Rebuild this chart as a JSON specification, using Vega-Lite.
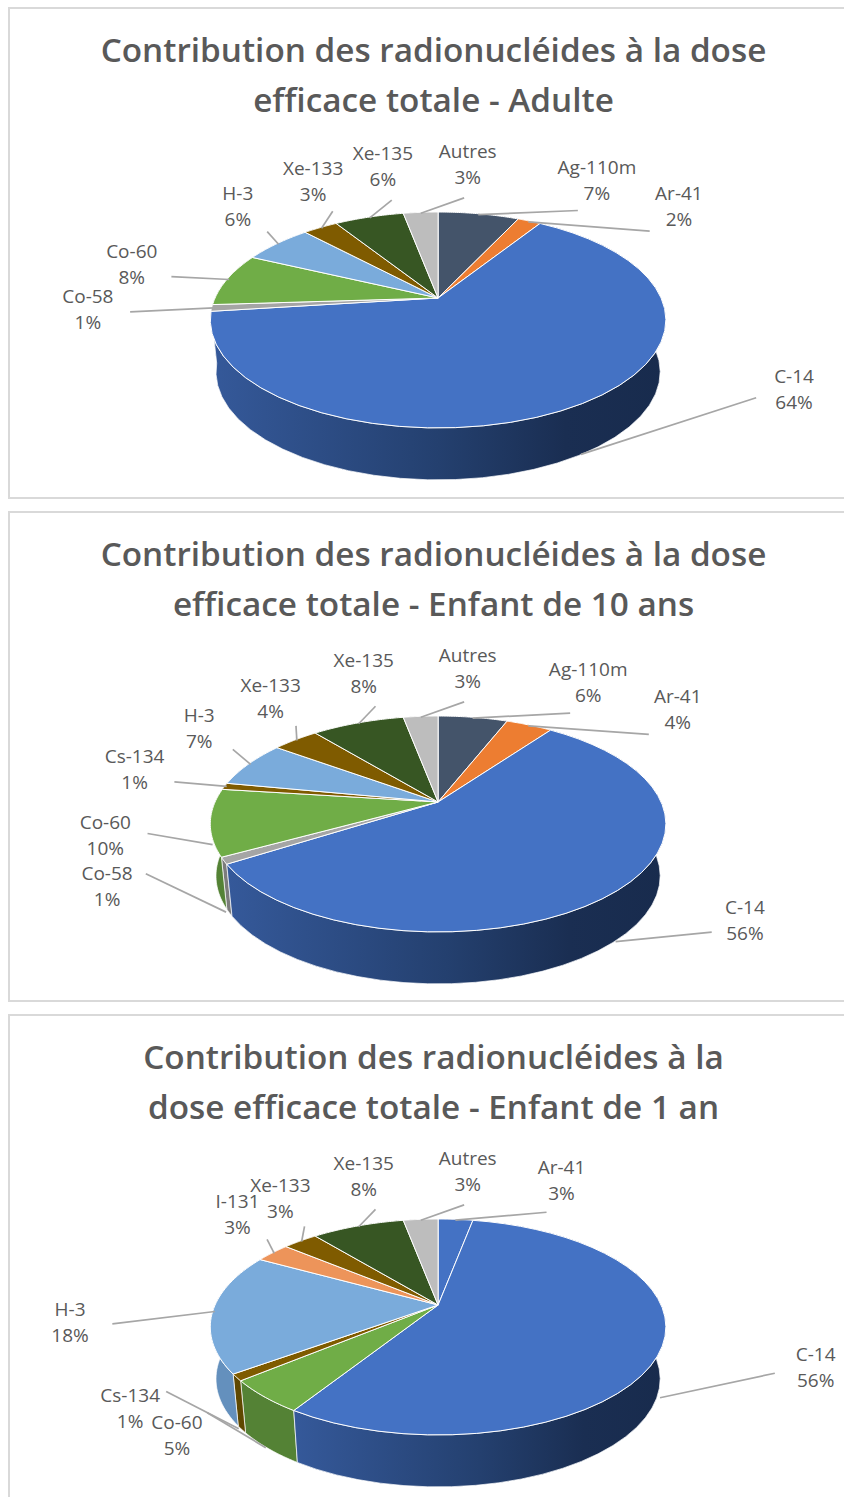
{
"$schema":"https://vega.github.io/schema/vega-lite/v6.json",
"padding":{"left":8,"top":7,"right":0,"bottom":0},
"background":"white",
"spacing":14,
"bounds":"flush",
"config":{"view":{"stroke":"#d9d9d9","strokeWidth":2},"title":{"font":"Open Sans","fontSize":33.3,"fontWeight":600,"color":"#595959","lineHeight":50,"anchor":"middle","dx":6,"offset":-111,"limit":0}},
"data":{"values":[
{"group":"Adulte","nuclide":"Ag-110m","value":7},{"group":"Adulte","nuclide":"Ar-41","value":2},{"group":"Adulte","nuclide":"C-14","value":64},{"group":"Adulte","nuclide":"Co-58","value":1},{"group":"Adulte","nuclide":"Co-60","value":8},{"group":"Adulte","nuclide":"H-3","value":6},{"group":"Adulte","nuclide":"Xe-133","value":3},{"group":"Adulte","nuclide":"Xe-135","value":6},{"group":"Adulte","nuclide":"Autres","value":3},
{"group":"Enfant de 10 ans","nuclide":"Ag-110m","value":6},{"group":"Enfant de 10 ans","nuclide":"Ar-41","value":4},{"group":"Enfant de 10 ans","nuclide":"C-14","value":56},{"group":"Enfant de 10 ans","nuclide":"Co-58","value":1},{"group":"Enfant de 10 ans","nuclide":"Co-60","value":10},{"group":"Enfant de 10 ans","nuclide":"Cs-134","value":1},{"group":"Enfant de 10 ans","nuclide":"H-3","value":7},{"group":"Enfant de 10 ans","nuclide":"Xe-133","value":4},{"group":"Enfant de 10 ans","nuclide":"Xe-135","value":8},{"group":"Enfant de 10 ans","nuclide":"Autres","value":3},
{"group":"Enfant de 1 an","nuclide":"Ar-41","value":3},{"group":"Enfant de 1 an","nuclide":"C-14","value":56},{"group":"Enfant de 1 an","nuclide":"Co-60","value":5},{"group":"Enfant de 1 an","nuclide":"Cs-134","value":1},{"group":"Enfant de 1 an","nuclide":"H-3","value":18},{"group":"Enfant de 1 an","nuclide":"I-131","value":3},{"group":"Enfant de 1 an","nuclide":"Xe-133","value":3},{"group":"Enfant de 1 an","nuclide":"Xe-135","value":8},{"group":"Enfant de 1 an","nuclide":"Autres","value":3}
]},
"transform":[
{"window":[{"op":"sum","field":"value","as":"cum"}],"groupby":["group"]},
{"calculate":"2*PI*(datum.cum-datum.value)/100","as":"a0"},
{"calculate":"2*PI*datum.cum/100","as":"a1"},
{"calculate":"(datum.a0+datum.a1)/2","as":"mid"},
{"calculate":"datum.mid+((sin(datum.mid)<0&&cos(datum.mid)>0?11+5*max(0,1-abs(datum.mid*180/PI-293)/15):10+6*cos(datum.mid))-25*datum.value/100-2.5*max(0,datum.value-56))*PI/180","as":"phi"},
{"calculate":"(sin(datum.phi)>=0?1.56:(cos(datum.phi)>=0?1.6-0.45*cos(datum.phi):1.4+min(0.22,-0.8*cos(datum.phi))))+0.35*datum.value/100","as":"lr"},
{"calculate":"datum.lr*sin(datum.phi)","as":"lx"},
{"calculate":"-0.099+0.70*cos(datum.phi)","as":"ly"},
{"calculate":"datum.lx-0.19*sin(datum.phi)","as":"ex"},
{"calculate":"sin(datum.phi)>0&&cos(datum.phi)<0?datum.ly-0.08*abs(cos(datum.phi)):datum.ly-0.15*cos(datum.phi)","as":"ey"},
{"calculate":"0.99*sin(datum.mid)/(1+0.2037*cos(datum.mid))","as":"sx"},
{"calculate":"0.99*0.464*cos(datum.mid)/(1+0.2037*cos(datum.mid))-0.233*(datum.value>50?1:min(1,max(0,-cos(datum.mid)*5-0.5)))","as":"sy"},
{"calculate":"datum.nuclide+'\\n'+datum.value+'%'","as":"lab"},
{"calculate":"[-1,0,1,2,3,4,5,6,7,8,9,10,11,12,13,14,15,16,17,18,19,20,21,22,23,24,25,26,27,28,29,30,31,32,33,34,35,36,37,38,39,40,41,42,43,44,45,46,47,48,49,50,51,52,53,54,55,56,57,58,59,60,61,62,63,64,65,66,67,68,69,70,71,72,73,74,75,76,77,78,79,80,81]","as":"s"},
{"flatten":["s"]},
{"calculate":"datum.s<=40?datum.s/40:(81-datum.s)/40","as":"t"},
{"calculate":"datum.a0+datum.t*(datum.a1-datum.a0)","as":"ang"},
{"calculate":"datum.s<0?0:sin(datum.ang)/(1+0.2037*cos(datum.ang))*(datum.s>40?0.975:1)","as":"px"},
{"calculate":"datum.s<0?0:0.464*cos(datum.ang)/(1+0.2037*cos(datum.ang))-(datum.s>40?0.233:0)","as":"py"},
{"calculate":"datum.group=='Enfant de 1 an'&&datum.nuclide=='Ar-41'?'C-14':datum.nuclide","as":"topKey"},
{"calculate":"'w:'+datum.nuclide","as":"wallKey"}
],
"vconcat":[
{"width":837,"height":490,"title":{"text":["Contribution des radionucléides à la dose","efficace totale - Adulte"]},
"transform":[{"filter":"datum.group=='Adulte'"}],
"encoding":{"x":{"field":"px","type":"quantitative","axis":null,"scale":{"domain":[-1.924,1.829],"nice":false,"zero":false}},"y":{"field":"py","type":"quantitative","axis":null,"scale":{"domain":[-0.8969,1.3004],"nice":false,"zero":false}},"order":{"field":"s","type":"quantitative"},"detail":{"field":"nuclide"}},
"layer":[
{"transform":[{"filter":"datum.s>=0"}],"mark":{"type":"line","interpolate":"linear-closed","stroke":"#ffffff","strokeWidth":0.7},"encoding":{"fill":{"field":"wallKey","type":"nominal","legend":null,"scale":{"domain":["w:Ag-110m","w:Ar-41","w:C-14","w:Co-58","w:Co-60","w:Cs-134","w:H-3","w:I-131","w:Xe-133","w:Xe-135","w:Autres","Ag-110m","Ar-41","C-14","Co-58","Co-60","Cs-134","H-3","I-131","Xe-133","Xe-135","Autres"],"range":["#333f50","#b85f23","#2a4a80","#7c7c7c","#548235","#5f4800","#6490bd","#b3703f","#5f4800","#29401a","#8e8e8e","#44546a","#ed7d31","#4472c4","#a5a5a5","#70ad47","#7f5b00","#7aabdb","#ed945a","#7f5b00","#375623","#bdbdbd"]}}}},
{"transform":[{"filter":"datum.s>=0&&datum.nuclide=='C-14'"}],"mark":{"type":"line","interpolate":"linear-closed","stroke":"#ffffff","strokeWidth":0.7,"fill":{"gradient":"linear","x1":0,"y1":0,"x2":1,"y2":0,"stops":[{"offset":0,"color":"#35599a"},{"offset":0.5,"color":"#24406f"},{"offset":0.78,"color":"#1a2e52"},{"offset":1,"color":"#182b4d"}]}},"encoding":{"fill":null}},
{"transform":[{"filter":"datum.s<=40"}],"mark":{"type":"line","interpolate":"linear-closed","stroke":"#ffffff","strokeWidth":1},"encoding":{"fill":{"field":"topKey","type":"nominal","legend":null}}},
{"transform":[{"filter":"datum.s==-1"}],"mark":{"type":"rule","color":"#a6a6a6","strokeWidth":1.7},"encoding":{"x":{"field":"sx"},"y":{"field":"sy"},"x2":{"field":"ex"},"y2":{"field":"ey"},"order":null}},
{"transform":[{"filter":"datum.s==-1"}],"mark":{"type":"text","font":"Open Sans","fontSize":19,"color":"#595959","lineBreak":"\n","lineHeight":26,"align":"center","baseline":"middle","dy":-13},"encoding":{"x":{"field":"lx"},"y":{"field":"ly"},"text":{"field":"lab"},"order":null}}
]},
{"width":837,"height":489,"title":{"text":["Contribution des radionucléides à la dose","efficace totale - Enfant de 10 ans"]},
"transform":[{"filter":"datum.group=='Enfant de 10 ans'"}],
"encoding":{"x":{"field":"px","type":"quantitative","axis":null,"scale":{"domain":[-1.924,1.829],"nice":false,"zero":false}},"y":{"field":"py","type":"quantitative","axis":null,"scale":{"domain":[-0.8925,1.3004],"nice":false,"zero":false}},"order":{"field":"s","type":"quantitative"},"detail":{"field":"nuclide"}},
"layer":[
{"transform":[{"filter":"datum.s>=0"}],"mark":{"type":"line","interpolate":"linear-closed","stroke":"#ffffff","strokeWidth":0.7},"encoding":{"fill":{"field":"wallKey","type":"nominal","legend":null,"scale":{"domain":["w:Ag-110m","w:Ar-41","w:C-14","w:Co-58","w:Co-60","w:Cs-134","w:H-3","w:I-131","w:Xe-133","w:Xe-135","w:Autres","Ag-110m","Ar-41","C-14","Co-58","Co-60","Cs-134","H-3","I-131","Xe-133","Xe-135","Autres"],"range":["#333f50","#b85f23","#2a4a80","#7c7c7c","#548235","#5f4800","#6490bd","#b3703f","#5f4800","#29401a","#8e8e8e","#44546a","#ed7d31","#4472c4","#a5a5a5","#70ad47","#7f5b00","#7aabdb","#ed945a","#7f5b00","#375623","#bdbdbd"]}}}},
{"transform":[{"filter":"datum.s>=0&&datum.nuclide=='C-14'"}],"mark":{"type":"line","interpolate":"linear-closed","stroke":"#ffffff","strokeWidth":0.7,"fill":{"gradient":"linear","x1":0,"y1":0,"x2":1,"y2":0,"stops":[{"offset":0,"color":"#35599a"},{"offset":0.5,"color":"#24406f"},{"offset":0.78,"color":"#1a2e52"},{"offset":1,"color":"#182b4d"}]}},"encoding":{"fill":null}},
{"transform":[{"filter":"datum.s<=40"}],"mark":{"type":"line","interpolate":"linear-closed","stroke":"#ffffff","strokeWidth":1},"encoding":{"fill":{"field":"topKey","type":"nominal","legend":null}}},
{"transform":[{"filter":"datum.s==-1"}],"mark":{"type":"rule","color":"#a6a6a6","strokeWidth":1.7},"encoding":{"x":{"field":"sx"},"y":{"field":"sy"},"x2":{"field":"ex"},"y2":{"field":"ey"},"order":null}},
{"transform":[{"filter":"datum.s==-1"}],"mark":{"type":"text","font":"Open Sans","fontSize":19,"color":"#595959","lineBreak":"\n","lineHeight":26,"align":"center","baseline":"middle","dy":-13},"encoding":{"x":{"field":"lx"},"y":{"field":"ly"},"text":{"field":"lab"},"order":null}}
]},
{"width":837,"height":490,"title":{"text":["Contribution des radionucléides à la","dose efficace totale - Enfant de 1 an"]},
"transform":[{"filter":"datum.group=='Enfant de 1 an'"}],
"encoding":{"x":{"field":"px","type":"quantitative","axis":null,"scale":{"domain":[-1.924,1.829],"nice":false,"zero":false}},"y":{"field":"py","type":"quantitative","axis":null,"scale":{"domain":[-0.8969,1.3004],"nice":false,"zero":false}},"order":{"field":"s","type":"quantitative"},"detail":{"field":"nuclide"}},
"layer":[
{"transform":[{"filter":"datum.s>=0"}],"mark":{"type":"line","interpolate":"linear-closed","stroke":"#ffffff","strokeWidth":0.7},"encoding":{"fill":{"field":"wallKey","type":"nominal","legend":null,"scale":{"domain":["w:Ag-110m","w:Ar-41","w:C-14","w:Co-58","w:Co-60","w:Cs-134","w:H-3","w:I-131","w:Xe-133","w:Xe-135","w:Autres","Ag-110m","Ar-41","C-14","Co-58","Co-60","Cs-134","H-3","I-131","Xe-133","Xe-135","Autres"],"range":["#333f50","#b85f23","#2a4a80","#7c7c7c","#548235","#5f4800","#6490bd","#b3703f","#5f4800","#29401a","#8e8e8e","#44546a","#ed7d31","#4472c4","#a5a5a5","#70ad47","#7f5b00","#7aabdb","#ed945a","#7f5b00","#375623","#bdbdbd"]}}}},
{"transform":[{"filter":"datum.s>=0&&datum.nuclide=='C-14'"}],"mark":{"type":"line","interpolate":"linear-closed","stroke":"#ffffff","strokeWidth":0.7,"fill":{"gradient":"linear","x1":0,"y1":0,"x2":1,"y2":0,"stops":[{"offset":0,"color":"#35599a"},{"offset":0.5,"color":"#24406f"},{"offset":0.78,"color":"#1a2e52"},{"offset":1,"color":"#182b4d"}]}},"encoding":{"fill":null}},
{"transform":[{"filter":"datum.s<=40"}],"mark":{"type":"line","interpolate":"linear-closed","stroke":"#ffffff","strokeWidth":1},"encoding":{"fill":{"field":"topKey","type":"nominal","legend":null}}},
{"transform":[{"filter":"datum.s==-1"}],"mark":{"type":"rule","color":"#a6a6a6","strokeWidth":1.7},"encoding":{"x":{"field":"sx"},"y":{"field":"sy"},"x2":{"field":"ex"},"y2":{"field":"ey"},"order":null}},
{"transform":[{"filter":"datum.s==-1"}],"mark":{"type":"text","font":"Open Sans","fontSize":19,"color":"#595959","lineBreak":"\n","lineHeight":26,"align":"center","baseline":"middle","dy":-13},"encoding":{"x":{"field":"lx"},"y":{"field":"ly"},"text":{"field":"lab"},"order":null}}
]}
]
}
